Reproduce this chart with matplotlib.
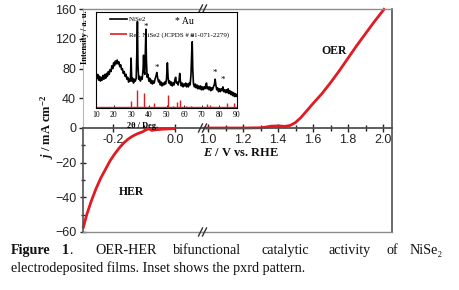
import numpy as np
import matplotlib
matplotlib.use('Agg')
import matplotlib.pyplot as plt
from matplotlib.lines import Line2D

plt.rcParams['font.family'] = ['Liberation Sans', 'DejaVu Sans']
plt.rcParams['mathtext.fontset'] = 'custom'
plt.rcParams['mathtext.rm'] = 'Liberation Serif:bold'
plt.rcParams['mathtext.it'] = 'Liberation Serif:italic:bold'
plt.rcParams['mathtext.bf'] = 'Liberation Serif:bold'

# HER branch (left, lower panel)
her_E = [-0.297, -0.285, -0.27, -0.255, -0.24, -0.225, -0.21, -0.195, -0.18, -0.165,
         -0.15, -0.135, -0.12, -0.105, -0.095, -0.085, -0.075, -0.06, -0.04, -0.02, 0.0]
her_j = [-58, -50, -42, -35, -29, -24, -19, -15, -11.5, -8.5,
         -6.2, -4.5, -3.2, -2.2, -1.2, -0.4, -1.4, -1.0, -0.7, -0.5, -0.4]

# OER branch (right, upper panel)
oer_E = [0.975, 1.1, 1.2, 1.3, 1.33, 1.36, 1.40, 1.44, 1.47, 1.50, 1.53, 1.56,
         1.60, 1.65, 1.70, 1.75, 1.80, 1.85, 1.90, 1.95, 2.0, 2.01]
oer_j = [0, 0, 0, 0.3, 1.2, 2.5, 2.8, 2.2, 3.5, 7.5, 14, 22,
         33, 46, 61, 77, 94, 111, 127, 143, 158, 161]

# inset: pxrd pattern (2theta, relative intensity %)
xrd_tth = [10.0, 10.5, 11.0, 11.5, 12.0, 12.5, 13.0, 13.5, 14.0, 14.5, 15.0, 15.5, 16.0, 16.5,
           17.0, 17.5, 18.0, 18.5, 19.0, 19.5, 20.0, 20.5, 21.0, 21.5, 22.0, 22.5, 23.0, 23.5,
           24.0, 24.5, 25.0, 25.5, 26.0, 26.5, 27.0, 27.5, 28.0, 28.5, 29.0, 29.5, 29.9, 30.3,
           30.8, 31.3, 31.8, 32.3, 32.8, 33.2, 33.5, 33.8, 34.2, 34.7, 35.2, 35.7, 36.2, 36.7,
           37.0, 37.3, 37.7, 38.0, 38.3, 38.6, 39.0, 39.5, 40.0, 40.5, 41.0, 41.5, 42.0, 42.5,
           43.0, 43.5, 44.0, 44.5, 45.0, 45.5, 46.0, 46.5, 47.0, 47.5, 48.0, 48.5, 49.0, 49.5,
           50.0, 50.5, 50.9, 51.3, 51.8, 52.3, 52.8, 53.3, 53.8, 54.3, 54.8, 55.2, 55.6, 56.1,
           56.6, 57.1, 57.5, 57.9, 58.4, 58.9, 59.4, 59.9, 60.4, 60.9, 61.4, 61.9, 62.4, 62.9,
           63.4, 63.9, 64.3, 64.6, 64.9, 65.3, 65.8, 66.3, 66.8, 67.3, 67.8, 68.3, 68.8, 69.3,
           69.8, 70.3, 70.8, 71.3, 71.8, 72.3, 72.7, 73.1, 73.6, 74.1, 74.6, 75.1, 75.6, 76.1,
           76.6, 77.1, 77.6, 78.0, 78.5, 79.0, 79.5, 80.0, 80.5, 81.0, 81.5, 82.0, 82.5, 83.0,
           83.5, 84.0, 84.5, 85.0, 85.5, 86.0, 86.5, 87.0, 87.5, 88.0, 88.5, 89.0, 89.5, 90.0]
xrd_int = [36, 31, 35, 29, 33, 28, 32, 29, 34, 30, 35, 31, 36, 33,
           38, 35, 40, 38, 44, 41, 47, 44, 49, 46, 50, 46, 48, 43,
           45, 40, 41, 36, 38, 33, 35, 30, 32, 27, 30, 28, 52, 28,
           31, 26, 30, 28, 31, 60, 90, 45, 30, 33, 28, 32, 30, 40,
           55, 38, 35, 60, 82, 50, 32, 35, 28, 31, 26, 29, 25, 28,
           26, 30, 33, 37, 31, 27, 29, 24, 27, 23, 26, 24, 27, 25,
           30, 47, 32, 26, 28, 24, 27, 23, 26, 24, 30, 32, 26, 27,
           24, 28, 36, 28, 23, 26, 22, 25, 23, 26, 22, 25, 22, 26,
           24, 35, 58, 69, 40, 25, 22, 25, 21, 24, 20, 23, 20, 23,
           19, 22, 19, 22, 20, 24, 26, 20, 22, 19, 22, 18, 21, 19,
           22, 24, 30, 24, 19, 21, 17, 20, 17, 20, 18, 22, 17, 19,
           16, 19, 16, 20, 15, 18, 14, 17, 13, 16, 12, 15, 12, 14]

ref_tth = [29.9, 33.4, 37.0, 40.0, 43.0, 50.7, 53.5, 55.7, 57.8, 61.0, 64.0, 72.9, 74.8, 84.6, 88.2]
ref_int = [7, 19, 16, 2.5, 5, 14, 2.5, 6, 8, 2.5, 2, 4, 3, 5, 5]
ref_base = 1.5

au_tth = [38.4, 44.6, 64.6, 77.6, 82.2]
au_star = [85, 42, 73, 37, 29]

RED = '#e01b22'
DARK = '#505050'
GRAY = '#8c8c8c'
LIGHT = '#b8b8b8'

W, H = 460, 290
fig = plt.figure(figsize=(4.6, 2.9), dpi=100)


def box(x0, y0, x1, y1):
    return [x0 / W, 1 - y1 / H, (x1 - x0) / W, (y1 - y0) / H]


X0, XB, X1 = 83, 203, 392
Y0, YZ, Y1 = 9, 128, 232

ax_tl = fig.add_axes(box(X0, Y0, XB, YZ))
ax_tr = fig.add_axes(box(XB, Y0, X1, YZ))
ax_bl = fig.add_axes(box(X0, YZ, XB, Y1))
ax_br = fig.add_axes(box(XB, YZ, X1, Y1))

for ax in (ax_tl, ax_tr, ax_bl, ax_br):
    ax.patch.set_alpha(0)
    for s in ax.spines.values():
        s.set_visible(False)
    ax.set_xticks([])
    ax.set_yticks([])

left_x = (-0.297, 0.090)
right_x = (0.971, 2.051)
for ax in (ax_tl, ax_bl):
    ax.set_xlim(*left_x)
for ax in (ax_tr, ax_br):
    ax.set_xlim(*right_x)
for ax in (ax_tl, ax_tr):
    ax.set_ylim(0, 160)
for ax in (ax_bl, ax_br):
    ax.set_ylim(-60, 0)


def spine(ax, side, color, lw):
    ax.spines[side].set_visible(True)
    ax.spines[side].set_color(color)
    ax.spines[side].set_linewidth(lw)


spine(ax_tl, 'left', LIGHT, 0.8)
spine(ax_tl, 'top', GRAY, 1.0)
spine(ax_tl, 'bottom', DARK, 1.3)
spine(ax_tr, 'top', GRAY, 1.0)
spine(ax_tr, 'right', DARK, 1.2)
spine(ax_tr, 'bottom', DARK, 1.3)
spine(ax_bl, 'left', DARK, 1.2)
spine(ax_bl, 'bottom', GRAY, 1.0)
spine(ax_br, 'right', DARK, 1.2)
spine(ax_br, 'bottom', GRAY, 1.0)

tick_kw = dict(labelsize=9, colors='#222222', width=1.0)

ax_tl.set_xticks([-0.2, 0.0])
ax_tl.set_xticklabels(['-0.2', '0.0'])
ax_tl.set_xticks([-0.1], minor=True)
ax_tl.set_yticks([0, 40, 80, 120, 160])
ax_tl.tick_params(axis='x', which='major', direction='inout', length=6, pad=1, **tick_kw)
ax_tl.tick_params(axis='x', which='minor', direction='inout', length=4, width=1.0, color='#222222')
ax_tl.tick_params(axis='y', direction='out', length=3, pad=2, **tick_kw)

ax_tr.set_xticks([1.0, 1.2, 1.4, 1.6, 1.8, 2.0])
ax_tr.set_xticks([1.1, 1.3, 1.5, 1.7, 1.9], minor=True)
ax_tr.tick_params(axis='x', which='major', direction='inout', length=6, pad=1, **tick_kw)
ax_tr.tick_params(axis='x', which='minor', direction='inout', length=4, width=1.0, color='#222222')

ax_bl.set_yticks([-60, -40, -20])
ax_bl.set_yticks([-50, -30, -10], minor=True)
ax_bl.tick_params(axis='y', which='major', direction='inout', length=5, pad=2, **tick_kw)
ax_bl.tick_params(axis='y', which='minor', direction='inout', length=3, width=1.0, color='#222222')

ax_bl.plot(her_E, her_j, color=RED, lw=2.0, clip_on=False, solid_capstyle='butt')
ax_tr.plot(oer_E, oer_j, color=RED, lw=2.0, clip_on=False, solid_capstyle='butt')

ax_tr.text(1.72, 104, 'OER', fontsize=8.5, fontweight='bold', family='Liberation Serif',
           ha='center', va='center', color='#111111')
ax_bl.text(-0.142, -37, 'HER', fontsize=8.5, fontweight='bold', family='Liberation Serif',
           ha='center', va='center', color='#111111')
ax_br.text(0.0, 0.76, r'$E$ / V vs. RHE', transform=ax_br.transAxes, fontsize=9,
           fontweight='bold', family='Liberation Serif', ha='left', va='center', color='#111111')
fig.text(47 / W, 1 - 127 / H, r'$j$ / mA cm$^{-2}$', rotation=90, fontsize=9,
         fontweight='bold', family='Liberation Serif', ha='center', va='center', color='#111111')

# break marks
for py in (Y0, YZ, Y1):
    for dx in (-2.5, 1.5):
        fig.add_artist(Line2D([(XB + dx - 2) / W, (XB + dx + 2) / W],
                              [1 - (py + 4) / H, 1 - (py - 4) / H],
                              transform=fig.transFigure, color='#333333', lw=1.0))

# inset
ax_in = fig.add_axes(box(96, 12, 237, 108), zorder=5)
ax_in.set_facecolor('white')
for s in ax_in.spines.values():
    s.set_color('black')
    s.set_linewidth(0.8)
ax_in.plot(xrd_tth, xrd_int, color='black', lw=1.2, label='NiSe2')
ax_in.axhline(ref_base, color=RED, lw=1.0)
ax_in.vlines(ref_tth, ref_base, ref_int, color=RED, lw=1.0,
             label='Ref. NiSe2 (JCPDS # 01-071-2279)')
for t, s in zip(au_tth, au_star):
    ax_in.text(t, s, '*', fontsize=6.5, family='Liberation Serif', ha='center', va='center')
ax_in.text(0.56, 0.905, '* Au', transform=ax_in.transAxes, fontsize=7,
           family='Liberation Serif', ha='left', va='center')
ax_in.set_xlim(10, 90)
ax_in.set_ylim(0, 100)
ax_in.set_xticks(range(10, 91, 10))
ax_in.set_yticks([])
ax_in.tick_params(axis='x', direction='in', length=2, width=0.6, labelsize=5.5, pad=2)
for lab in ax_in.get_xticklabels():
    lab.set_family('Liberation Serif')
ax_in.set_xlabel('2θ / Deg.', fontsize=6, fontweight='bold', family='Liberation Serif', labelpad=0)
ax_in.xaxis.set_label_coords(0.33, -0.15)
ax_in.set_ylabel('Intensity / a. u.', fontsize=6, fontweight='bold', family='Liberation Serif')
ax_in.yaxis.set_label_coords(-0.05, 0.74)
leg = ax_in.legend(loc='upper left', bbox_to_anchor=(0.07, 1.0), frameon=False,
                   prop={'family': 'Liberation Serif', 'size': 5.0}, handlelength=2.4,
                   labelspacing=1.3, handletextpad=0.3, borderaxespad=0.25)
for lh in leg.get_lines():
    lh.set_linewidth(1.2)

# caption, justified word by word
cap_font = ['Liberation Serif', 'DejaVu Serif']
line1 = [('Figure', 11, 'bold'), ('1', 62, 'bold'), ('.', 69, 'normal'), ('OER-HER', 95, 'normal'),
         ('bifunctional', 173, 'normal'), ('catalytic', 261, 'normal'), ('activity', 329, 'normal'),
         ('of', 387, 'normal'), ('NiSe₂', 410, 'normal')]
for word, px, wt in line1:
    fig.text(px / W, 1 - 254 / H, word, fontsize=10.2, fontweight=wt, family=cap_font,
             ha='left', va='baseline', color='#111111')
fig.text(11 / W, 1 - 272 / H, 'electrodeposited films. Inset shows the pxrd pattern.',
         fontsize=10.2, family=cap_font, ha='left', va='baseline', color='#111111')

fig.savefig('out.png', dpi=100)
